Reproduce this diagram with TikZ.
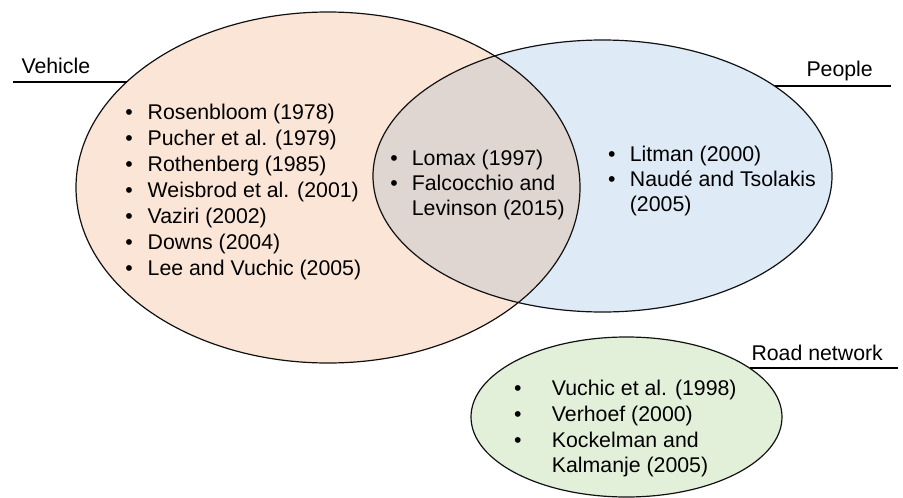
\documentclass[tikz,border=0pt]{standalone}
\usepackage{fontspec}
\setmainfont{Liberation Sans}
\usetikzlibrary{shapes.geometric}
\definecolor{vehfill}{HTML}{FBE5D6}
\definecolor{peofill}{HTML}{DEEBF7}
\definecolor{roadfill}{HTML}{E2F0D9}
\definecolor{lensfill}{HTML}{DFD6D2}
\definecolor{edge}{HTML}{111111}
\tikzset{
  setbox/.style={ellipse, inner sep=0pt, outer sep=0pt},
  item/.style={anchor=base west, inner sep=0pt, outer sep=0pt, font=\fontsize{21.3}{26}\selectfont},
  lab/.style={anchor=base west, inner sep=0pt, outer sep=0pt, font=\fontsize{21.3}{26}\selectfont},
  edgeline/.style={draw=edge, line width=1.2pt},
  labline/.style={draw=black, line width=1.3pt}
}
\newcommand{\bul}[1]{\makebox[#1][l]{\textbullet}}
\begin{document}
\begin{tikzpicture}[x=1pt,y=-1pt]
\useasboundingbox (0,0) rectangle (903,498);
% set shapes
\node[setbox, fill=vehfill, minimum width=504pt, minimum height=351pt] (veh) at (328,187.5) {};
\node[setbox, fill=peofill, minimum width=459pt, minimum height=272pt] (peo) at (602.5,176) {};
\begin{scope}
  \clip (328,187.5) ellipse [x radius=252pt, y radius=175.5pt];
  \fill[lensfill] (602.5,176) ellipse [x radius=229.5pt, y radius=136pt];
\end{scope}
\node[setbox, fill=roadfill, minimum width=311pt, minimum height=160pt] (road) at (626.5,417) {};
\draw[edgeline] (328,187.5) ellipse [x radius=252pt, y radius=175.5pt];
\draw[edgeline] (602.5,176) ellipse [x radius=229.5pt, y radius=136pt];
\draw[edgeline] (626.5,417) ellipse [x radius=155.5pt, y radius=80pt];
% labels
\node[lab] (vlab) at (21.5,73) {Vehicle};
\node[lab] (plab) at (806.5,76.7) {People};
\node[lab] (rlab) at (751.5,360) {Road network};
\coordinate (vl0) at (13,82);
\coordinate (vl1) at (126.6,82);
\coordinate (pl0) at (775,86);
\coordinate (pl1) at (891,86);
\coordinate (rl0) at (749.5,368);
\coordinate (rl1) at (898,368);
\draw[labline] (vl0) -- (vl1);
\draw[labline] (pl0) -- (pl1);
\draw[labline] (rl0) -- (rl1);
% vehicle list
\node[item] (v1) at (125.3,119) {\bul{22.4pt}Rosenbloom (1978)};
\node[item] (v2) at (125.3,145) {\bul{22.4pt}Pucher et al. (1979)};
\node[item] (v3) at (125.3,171) {\bul{22.4pt}Rothenberg (1985)};
\node[item] (v4) at (125.3,197) {\bul{22.4pt}Weisbrod et al. (2001)};
\node[item] (v5) at (125.3,223) {\bul{22.4pt}Vaziri (2002)};
\node[item] (v6) at (125.3,249) {\bul{22.4pt}Downs (2004)};
\node[item] (v7) at (125.3,275) {\bul{22.4pt}Lee and Vuchic (2005)};
% lens list
\node[item] (l1) at (390.3,165.7) {\bul{21.6pt}Lomax (1997)};
\node[item] (l2) at (390.3,190.7) {\bul{21.6pt}Falcocchio and};
\node[item] (l3) at (411.9,215.7) {Levinson (2015)};
% people list
\node[item] (p1) at (608.1,161.7) {\bul{21.8pt}Litman (2000)};
\node[item] (p2) at (608.1,186.7) {\bul{21.8pt}Naudé and Tsolakis};
\node[item] (p3) at (629.9,211.7) {(2005)};
% road list
\node[item] (r1) at (514.1,395) {\bul{37.8pt}Vuchic et al. (1998)};
\node[item] (r2) at (514.1,421.5) {\bul{37.8pt}Verhoef (2000)};
\node[item] (r3) at (514.1,447.3) {\bul{37.8pt}Kockelman and};
\node[item] (r4) at (551.9,472.3) {Kalmanje (2005)};
\end{tikzpicture}
\end{document}
